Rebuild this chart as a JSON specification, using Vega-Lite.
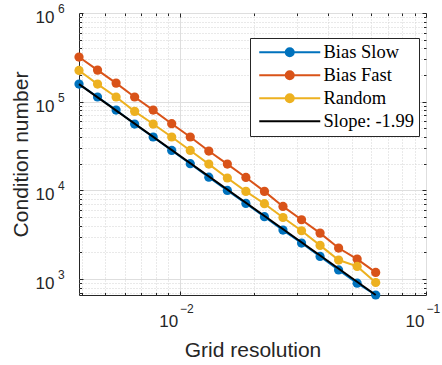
{
  "$schema": "https://vega.github.io/schema/vega-lite/v6.json",
  "width": 347,
  "height": 282,
  "autosize": {"type": "none"},
  "padding": {"left": 79, "top": 13, "right": 16, "bottom": 70},
  "config": {
    "view": {"stroke": "#262626", "strokeWidth": 1},
    "font": "Liberation Sans"
  },
  "datasets": {
    "conv": [
      {"h": 0.00390625, "series": "Bias Slow", "value": 158000},
      {"h": 0.0046453, "series": "Bias Slow", "value": 113000},
      {"h": 0.0055243, "series": "Bias Slow", "value": 80500},
      {"h": 0.0065695, "series": "Bias Slow", "value": 56000},
      {"h": 0.0078125, "series": "Bias Slow", "value": 40000},
      {"h": 0.0092906, "series": "Bias Slow", "value": 28200},
      {"h": 0.0110485, "series": "Bias Slow", "value": 20000},
      {"h": 0.013139, "series": "Bias Slow", "value": 14100},
      {"h": 0.015625, "series": "Bias Slow", "value": 10000},
      {"h": 0.0185811, "series": "Bias Slow", "value": 7130},
      {"h": 0.0220971, "series": "Bias Slow", "value": 5050},
      {"h": 0.026278, "series": "Bias Slow", "value": 3570},
      {"h": 0.03125, "series": "Bias Slow", "value": 2550},
      {"h": 0.0371622, "series": "Bias Slow", "value": 1800},
      {"h": 0.0441942, "series": "Bias Slow", "value": 1270},
      {"h": 0.052556, "series": "Bias Slow", "value": 900},
      {"h": 0.0625, "series": "Bias Slow", "value": 662},
      {"h": 0.00390625, "series": "Bias Fast", "value": 319000},
      {"h": 0.0046453, "series": "Bias Fast", "value": 227000},
      {"h": 0.0055243, "series": "Bias Fast", "value": 162000},
      {"h": 0.0065695, "series": "Bias Fast", "value": 113000},
      {"h": 0.0078125, "series": "Bias Fast", "value": 80500},
      {"h": 0.0092906, "series": "Bias Fast", "value": 56500},
      {"h": 0.0110485, "series": "Bias Fast", "value": 40000},
      {"h": 0.013139, "series": "Bias Fast", "value": 27800},
      {"h": 0.015625, "series": "Bias Fast", "value": 19800},
      {"h": 0.0185811, "series": "Bias Fast", "value": 14000},
      {"h": 0.0220971, "series": "Bias Fast", "value": 9750},
      {"h": 0.026278, "series": "Bias Fast", "value": 6600},
      {"h": 0.03125, "series": "Bias Fast", "value": 4670},
      {"h": 0.0371622, "series": "Bias Fast", "value": 3300},
      {"h": 0.0441942, "series": "Bias Fast", "value": 2240},
      {"h": 0.052556, "series": "Bias Fast", "value": 1680},
      {"h": 0.0625, "series": "Bias Fast", "value": 1190},
      {"h": 0.00390625, "series": "Random", "value": 225000},
      {"h": 0.0046453, "series": "Random", "value": 158000},
      {"h": 0.0055243, "series": "Random", "value": 113000},
      {"h": 0.0065695, "series": "Random", "value": 77800},
      {"h": 0.0078125, "series": "Random", "value": 56000},
      {"h": 0.0092906, "series": "Random", "value": 40000},
      {"h": 0.0110485, "series": "Random", "value": 28200},
      {"h": 0.013139, "series": "Random", "value": 19800},
      {"h": 0.015625, "series": "Random", "value": 13800},
      {"h": 0.0185811, "series": "Random", "value": 9750},
      {"h": 0.0220971, "series": "Random", "value": 7080},
      {"h": 0.026278, "series": "Random", "value": 4950},
      {"h": 0.03125, "series": "Random", "value": 3510},
      {"h": 0.0371622, "series": "Random", "value": 2400},
      {"h": 0.0441942, "series": "Random", "value": 1640},
      {"h": 0.052556, "series": "Random", "value": 1390},
      {"h": 0.0625, "series": "Random", "value": 916},
      {"h": 0.00390625, "series": "Slope: -1.99", "value": 158000},
      {"h": 0.0625, "series": "Slope: -1.99", "value": 662}
    ],
    "xdecades": [
      {"h": 0.01, "exponent": "−2"},
      {"h": 0.1, "exponent": "−1"}
    ],
    "ydecades": [
      {"value": 1000, "exponent": "3"},
      {"value": 10000, "exponent": "4"},
      {"value": 100000, "exponent": "5"},
      {"value": 1000000, "exponent": "6"}
    ]
  },
  "layer": [
    {
      "data": {"name": "conv"},
      "transform": [{"filter": "datum.series !== 'Slope: -1.99'"}],
      "mark": {
        "type": "line",
        "strokeWidth": 2,
        "point": {"filled": true, "size": 85, "opacity": 1}
      },
      "encoding": {
        "x": {
          "field": "h",
          "type": "quantitative",
          "scale": {"type": "log", "domain": [0.00390625, 0.1], "nice": false},
          "axis": {
            "values": [0.004, 0.005, 0.006, 0.007, 0.008, 0.009, 0.01, 0.02, 0.03, 0.04, 0.05, 0.06, 0.07, 0.08, 0.09, 0.1],
            "labels": false,
            "title": "Grid resolution",
            "titleFontSize": 21,
            "titleFontWeight": "normal",
            "titleColor": "#262626",
            "titlePadding": 44,
            "domain": false,
            "tickColor": "#262626",
            "tickSize": {"condition": {"test": "datum.value == 0.01 || datum.value == 0.1", "value": -4}, "value": -2.5},
            "grid": true,
            "gridColor": {"condition": {"test": "datum.value == 0.01 || datum.value == 0.1", "value": "#dedede"}, "value": "#d2d2d2"},
            "gridDash": {"condition": {"test": "datum.value == 0.01 || datum.value == 0.1", "value": []}, "value": [1, 2]}
          }
        },
        "y": {
          "field": "value",
          "type": "quantitative",
          "scale": {"type": "log", "domain": [662, 1000000], "nice": false},
          "axis": {
            "values": [700, 800, 900, 1000, 2000, 3000, 4000, 5000, 6000, 7000, 8000, 9000, 10000, 20000, 30000, 40000, 50000, 60000, 70000, 80000, 90000, 100000, 200000, 300000, 400000, 500000, 600000, 700000, 800000, 900000, 1000000],
            "labels": false,
            "title": "Condition number",
            "titleFontSize": 21,
            "titleFontWeight": "normal",
            "titleColor": "#262626",
            "titlePadding": 47,
            "domain": false,
            "tickColor": "#262626",
            "tickSize": {"condition": {"test": "datum.value == 1000 || datum.value == 10000 || datum.value == 100000 || datum.value == 1000000", "value": -4}, "value": -2.5},
            "grid": true,
            "gridColor": {"condition": {"test": "datum.value == 1000 || datum.value == 10000 || datum.value == 100000 || datum.value == 1000000", "value": "#dedede"}, "value": "#d2d2d2"},
            "gridDash": {"condition": {"test": "datum.value == 1000 || datum.value == 10000 || datum.value == 100000 || datum.value == 1000000", "value": []}, "value": [1, 2]}
          }
        },
        "color": {
          "field": "series",
          "type": "nominal",
          "scale": {
            "domain": ["Bias Slow", "Bias Fast", "Random", "Slope: -1.99"],
            "range": ["#0072BD", "#D95319", "#EDB120", "#000000"]
          },
          "legend": {
            "title": null,
            "orient": "none",
            "legendX": 171,
            "legendY": 25,
            "fillColor": "white",
            "strokeColor": "#262626",
            "padding": 5,
            "rowPadding": 4,
            "labelFont": "Liberation Serif",
            "labelFontSize": 18.5,
            "labelColor": "black",
            "labelOffset": 50,
            "labelLimit": 0,
            "symbolSize": 100,
            "symbolStrokeWidth": 2,
            "symbolType": "M-1,0L11.2,0M4.3,0A0.8,0.8,0,1,1,5.9,0A0.8,0.8,0,1,1,4.3,0Z",
            "encode": {
              "symbols": {
                "update": {
                  "shape": {"signal": "datum.value === 'Slope: -1.99' ? 'M-1,0L11.2,0' : 'M-1,0L11.2,0M4.3,0A0.8,0.8,0,1,1,5.9,0A0.8,0.8,0,1,1,4.3,0Z'"},
                  "fill": {"scale": "color", "field": "value"},
                  "stroke": {"scale": "color", "field": "value"},
                  "opacity": {"value": 1}
                }
              }
            }
          }
        }
      }
    },
    {
      "data": {"name": "conv"},
      "transform": [{"filter": "datum.series === 'Slope: -1.99'"}],
      "mark": {"type": "line", "strokeWidth": 2},
      "encoding": {
        "x": {
          "field": "h",
          "type": "quantitative",
          "axis": {
            "orient": "top",
            "values": [0.004, 0.005, 0.006, 0.007, 0.008, 0.009, 0.01, 0.02, 0.03, 0.04, 0.05, 0.06, 0.07, 0.08, 0.09, 0.1],
            "labels": false,
            "title": null,
            "domain": false,
            "grid": false,
            "tickColor": "#262626",
            "tickSize": {"condition": {"test": "datum.value == 0.01 || datum.value == 0.1", "value": -4}, "value": -2.5}
          }
        },
        "y": {
          "field": "value",
          "type": "quantitative",
          "axis": {
            "orient": "right",
            "values": [700, 800, 900, 1000, 2000, 3000, 4000, 5000, 6000, 7000, 8000, 9000, 10000, 20000, 30000, 40000, 50000, 60000, 70000, 80000, 90000, 100000, 200000, 300000, 400000, 500000, 600000, 700000, 800000, 900000, 1000000],
            "labels": false,
            "title": null,
            "domain": false,
            "grid": false,
            "tickColor": "#262626",
            "tickSize": {"condition": {"test": "datum.value == 1000 || datum.value == 10000 || datum.value == 100000 || datum.value == 1000000", "value": -4}, "value": -2.5}
          }
        },
        "color": {"field": "series", "type": "nominal"}
      }
    },
    {
      "data": {"name": "xdecades"},
      "mark": {"type": "text", "align": "right", "baseline": "alphabetic", "dx": -1.5, "dy": 32, "fontSize": 17, "color": "#262626", "font": "Liberation Sans"},
      "encoding": {
        "x": {"field": "h", "type": "quantitative", "axis": null},
        "y": {"datum": 662, "type": "quantitative", "axis": null},
        "text": {"value": "10"}
      }
    },
    {
      "data": {"name": "xdecades"},
      "mark": {"type": "text", "align": "left", "baseline": "alphabetic", "dx": 0.5, "dy": 18, "fontSize": 12, "color": "#262626", "font": "Liberation Sans"},
      "encoding": {
        "x": {"field": "h", "type": "quantitative", "axis": null},
        "y": {"datum": 662, "type": "quantitative", "axis": null},
        "text": {"field": "exponent"}
      }
    },
    {
      "data": {"name": "ydecades"},
      "mark": {"type": "text", "align": "right", "baseline": "alphabetic", "dx": -24.5, "dy": 10, "fontSize": 17, "color": "#262626", "font": "Liberation Sans"},
      "encoding": {
        "x": {"datum": 0.00390625, "type": "quantitative", "axis": null},
        "y": {"field": "value", "type": "quantitative", "axis": null},
        "text": {"value": "10"}
      }
    },
    {
      "data": {"name": "ydecades"},
      "mark": {"type": "text", "align": "left", "baseline": "alphabetic", "dx": -21, "dy": 0, "fontSize": 12, "color": "#262626", "font": "Liberation Sans"},
      "encoding": {
        "x": {"datum": 0.00390625, "type": "quantitative", "axis": null},
        "y": {"field": "value", "type": "quantitative", "axis": null},
        "text": {"field": "exponent"}
      }
    }
  ],
  "resolve": {"axis": {"x": "independent", "y": "independent"}}
}
